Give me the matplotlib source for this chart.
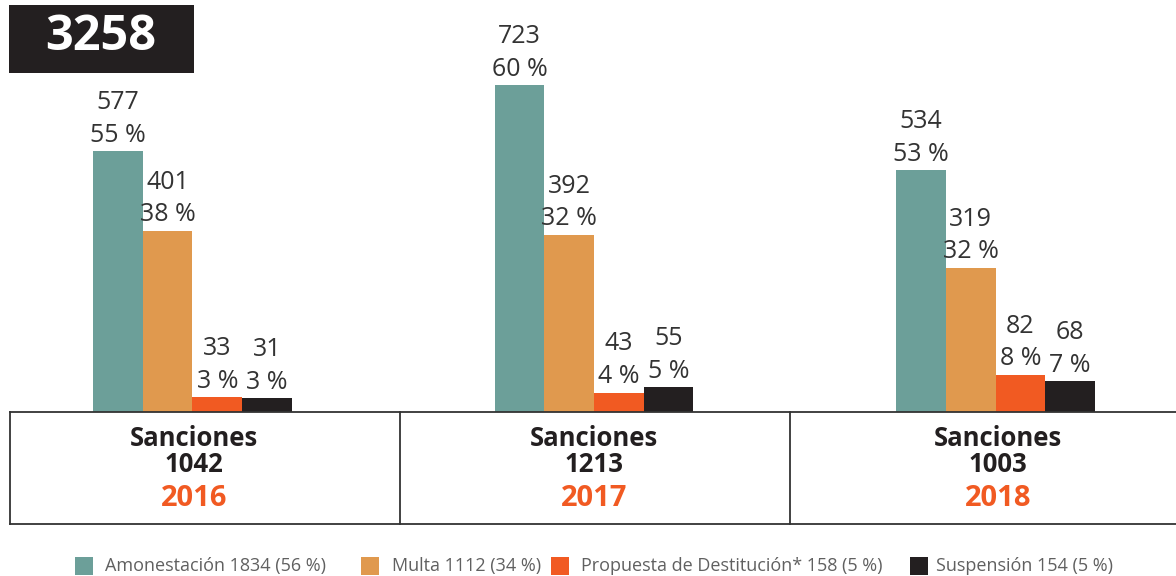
import matplotlib
matplotlib.use("Agg")
import matplotlib.pyplot as plt
from matplotlib.patches import Rectangle
import numpy as np

# ---- data ----
years = ["2016", "2017", "2018"]
totals = [1042, 1213, 1003]
series_names = ["Amonestación", "Multa", "Propuesta de Destitución*", "Suspensión"]
amonestacion = [577, 723, 534]
multa = [401, 392, 319]
propuesta = [33, 43, 82]
suspension = [31, 55, 68]
amonestacion_pct = [55, 60, 53]
multa_pct = [38, 32, 32]
propuesta_pct = [3, 4, 8]
suspension_pct = [3, 5, 7]
legend_labels = ["Amonestación 1834 (56 %)", "Multa 1112 (34 %)",
                 "Propuesta de Destitución* 158 (5 %)", "Suspensión 154 (5 %)"]
grand_total = "3258"

colors = ["#6c9f99", "#e0994e", "#f15a22", "#231f20"]

W, H = 1176, 576
fig = plt.figure(figsize=(W / 100, H / 100), dpi=100)
fig.patch.set_facecolor("white")

def fx(px):
    return px / W

def fy(py):
    return 1 - py / H

FONT = "Open Sans"
TXT = "#333333"

# axes: bottom at baseline pixel 412, top at figure top
px_per_unit = 0.4523
base = 412
ax = fig.add_axes([0, fy(base), 1, base / H])
ax.set_ylim(0, base / px_per_unit)
spacing = 401.5
c0 = 192.5
ax.set_xlim(-c0 / spacing, (W - c0) / spacing)
ax.axis("off")

values = [amonestacion, multa, propuesta, suspension]
pcts = [amonestacion_pct, multa_pct, propuesta_pct, suspension_pct]
bw = 49.7 / spacing
x = np.arange(len(years))
for i, (vals, pc) in enumerate(zip(values, pcts)):
    xs = x + (i - 1.5) * bw
    ax.bar(xs, vals, width=bw, color=colors[i], linewidth=0)
    for xi, v, p in zip(xs, vals, pc):
        ax.annotate(f"{p} %", (xi, v), xytext=(0, 11.5), textcoords="offset points",
                    ha="center", va="center", fontsize=18, family=FONT,
                    fontweight="normal", color=TXT)
        ax.annotate(f"{v}", (xi, v), xytext=(0, 35), textcoords="offset points",
                    ha="center", va="center", fontsize=18, family=FONT,
                    fontweight="normal", color=TXT)

# ---- table box below ----
lc = "#333333"
lw = 1.3
top, bot = 412, 524
fig.add_artist(plt.Line2D([fx(10), fx(W + 5)], [fy(top), fy(top)], color=lc, lw=lw))
fig.add_artist(plt.Line2D([fx(10), fx(W + 5)], [fy(bot), fy(bot)], color=lc, lw=lw))
for xv in [10, 400, 790]:
    fig.add_artist(plt.Line2D([fx(xv), fx(xv)], [fy(top), fy(bot)], color=lc, lw=lw))

centers_px = [194, 594, 998]
for cx, yr, tot in zip(centers_px, years, totals):
    fig.text(fx(cx), fy(439), "Sanciones", ha="center", va="center", fontsize=18.5,
             family=FONT, fontweight="bold", color="#231f20")
    fig.text(fx(cx), fy(465), f"{tot}", ha="center", va="center", fontsize=18.5,
             family=FONT, fontweight="bold", color="#231f20")
    fig.text(fx(cx), fy(499), yr, ha="center", va="center", fontsize=21,
             family=FONT, fontweight="bold", color="#f15a22")

# ---- total badge ----
fig.add_artist(Rectangle((fx(9), fy(73)), fx(185), 68 / H, transform=fig.transFigure,
                         facecolor="#231f20", edgecolor="none"))
fig.text(fx(101), fy(38), grand_total, ha="center", va="center", fontsize=35,
         family=FONT, fontweight="bold", color="white")

# ---- legend ----
sq_x = [75, 361, 551, 910]
tx_x = [105, 392, 581, 936]
ly = 566
for sx, tx, col, lab in zip(sq_x, tx_x, colors, legend_labels):
    fig.add_artist(Rectangle((fx(sx), fy(ly + 9)), fx(18), 18 / H, transform=fig.transFigure,
                             facecolor=col, edgecolor="none"))
    fig.text(fx(tx), fy(ly), lab, ha="left", va="center", fontsize=13,
             family=FONT, fontweight="normal", color="#606060")

fig.savefig("out.png", dpi=100, facecolor="white")
